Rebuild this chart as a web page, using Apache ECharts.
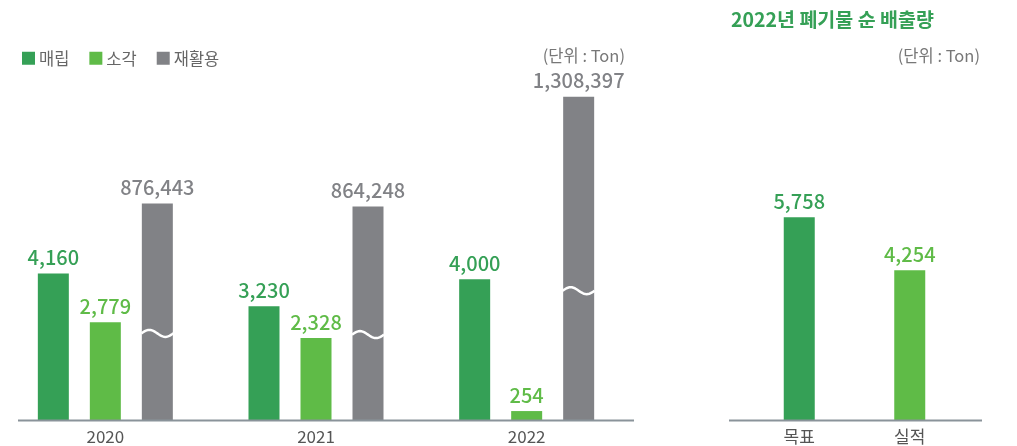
<!DOCTYPE html>
<html>
<head>
<meta charset="utf-8">
<script src="https://cdn.jsdelivr.net/npm/echarts@6/dist/echarts.min.js"></script>
<style>
  html, body { margin: 0; padding: 0; background: #fff; }
  #chart { width: 1017px; height: 446px; }
</style>
</head>
<body>
<div id="chart"></div>
<script>
// Waste volumes by treatment method (Ton)
const years = ['2020', '2021', '2022'];
const landfill = [4160, 3230, 4000];          // 매립
const incineration = [2779, 2328, 254];       // 소각
const recycling = [876443, 864248, 1308397];  // 재활용

// 2022 net waste discharge (Ton)
const targetCategories = ['목표', '실적'];
const targetValues = [5758, 4254];

const FONT = '"Noto Sans CJK KR", "Noto Sans", sans-serif';
const C_DARK = '#35a056';
const C_LIGHT = '#5fbb47';
const C_GRAY = '#818286';
const AXIS_COLOR = '#8a939a';
const BAR_W = 31;
const GAP_PX = 21;
const GRID_BOTTOM = 26;

const fmt = p => Number(p.value).toLocaleString('en-US');

const labelStyle = color => ({
  show: true,
  position: 'top',
  distance: 6,
  color: color,
  fontFamily: FONT,
  fontSize: 20,
  fontWeight: 500,
  formatter: fmt
});

const xAxisCommon = {
  type: 'category',
  axisTick: { show: false },
  axisLine: { show: false },
  axisLabel: { color: '#555', fontFamily: FONT, fontSize: 17, margin: 8 }
};
const yAxisHidden = { type: 'value', show: false, splitLine: { show: false } };

// baseline rules under each panel
const baseline = (x1, x2) => ({
  type: 'line',
  z: 10,
  shape: { x1: x1, y1: 446 - GRID_BOTTOM + 0.5, x2: x2, y2: 446 - GRID_BOTTOM + 0.5 },
  style: { stroke: AXIS_COLOR, lineWidth: 2 }
});

const chart = echarts.init(document.getElementById('chart'), null, { renderer: 'canvas' });

chart.setOption({
  animation: false,
  title: [
    {
      text: '2022년 폐기물 순 배출량',
      left: 726, top: 5,
      textStyle: { color: C_DARK, fontFamily: FONT, fontSize: 19.5, fontWeight: 'bold' }
    },
    {
      text: '(단위 : Ton)',
      right: 387, top: 42,
      textStyle: { color: '#777', fontFamily: FONT, fontSize: 16.5, fontWeight: 'normal' }
    },
    {
      text: '(단위 : Ton)',
      right: 32, top: 42,
      textStyle: { color: '#777', fontFamily: FONT, fontSize: 16.5, fontWeight: 'normal' }
    }
  ],
  legend: {
    data: ['매립', '소각', '재활용'],
    left: 17, top: 45,
    icon: 'rect',
    itemWidth: 13, itemHeight: 13,
    itemGap: 20,
    textStyle: { color: '#666', fontFamily: FONT, fontSize: 16.5, padding: [0, 0, 0, -1] }
  },
  grid: [
    { left: 0, width: 632, top: 68, bottom: GRID_BOTTOM },
    { left: 744, width: 221, top: 68, bottom: GRID_BOTTOM }
  ],
  graphic: [baseline(18, 634), baseline(729, 982)],
  xAxis: [
    Object.assign({ gridIndex: 0, data: years }, xAxisCommon),
    Object.assign({ gridIndex: 1, data: targetCategories }, xAxisCommon)
  ],
  yAxis: [
    Object.assign({ gridIndex: 0, min: 0, max: 10000 }, yAxisHidden),
    Object.assign({ gridIndex: 0, min: 0, max: 1425000 }, yAxisHidden),
    Object.assign({ gridIndex: 1, min: 0, max: 10000 }, yAxisHidden)
  ],
  series: [
    {
      name: '매립', type: 'bar', xAxisIndex: 0, yAxisIndex: 0,
      data: landfill, barWidth: BAR_W, barGap: (GAP_PX / BAR_W * 100) + '%',
      itemStyle: { color: C_DARK },
      label: labelStyle(C_DARK)
    },
    {
      name: '소각', type: 'bar', xAxisIndex: 0, yAxisIndex: 0,
      data: incineration, barWidth: BAR_W, barGap: (GAP_PX / BAR_W * 100) + '%',
      itemStyle: { color: C_LIGHT },
      label: labelStyle(C_LIGHT)
    },
    {
      name: '재활용', type: 'bar', xAxisIndex: 0, yAxisIndex: 1,
      data: recycling, barWidth: BAR_W, barGap: (GAP_PX / BAR_W * 100) + '%',
      itemStyle: { color: C_GRAY },
      label: labelStyle(C_GRAY)
    },
    {
      // white "~" break mark across each recycling bar
      name: 'break', type: 'custom', xAxisIndex: 0, yAxisIndex: 1,
      data: recycling.map((v, i) => [i, v]),
      silent: true, z: 5,
      renderItem: function (params, api) {
        const top = api.coord([api.value(0), api.value(1)]);
        const c = api.coord([api.value(0), 0]);
        const yc = c[1] - (c[1] - top[1]) * 0.4;
        const cx = c[0] + BAR_W + GAP_PX;
        const x0 = cx - BAR_W / 2 - 0.5;
        const w = BAR_W + 1;
        const pts = [];
        for (let i = 0; i <= 24; i++) {
          const t = i / 24;
          pts.push([x0 + t * w, yc - 3.5 * Math.sin(2 * Math.PI * t)]);
        }
        return {
          type: 'polyline',
          shape: { points: pts },
          style: { stroke: '#fff', lineWidth: 2.5, fill: null }
        };
      },
      encode: { x: 0, y: 1 }
    },
    {
      name: '순 배출량', type: 'bar', xAxisIndex: 1, yAxisIndex: 2,
      barWidth: BAR_W,
      data: [
        { value: targetValues[0], itemStyle: { color: C_DARK }, label: { color: C_DARK } },
        { value: targetValues[1], itemStyle: { color: C_LIGHT }, label: { color: C_LIGHT } }
      ],
      label: labelStyle(C_DARK)
    }
  ]
});
</script>
</body>
</html>
